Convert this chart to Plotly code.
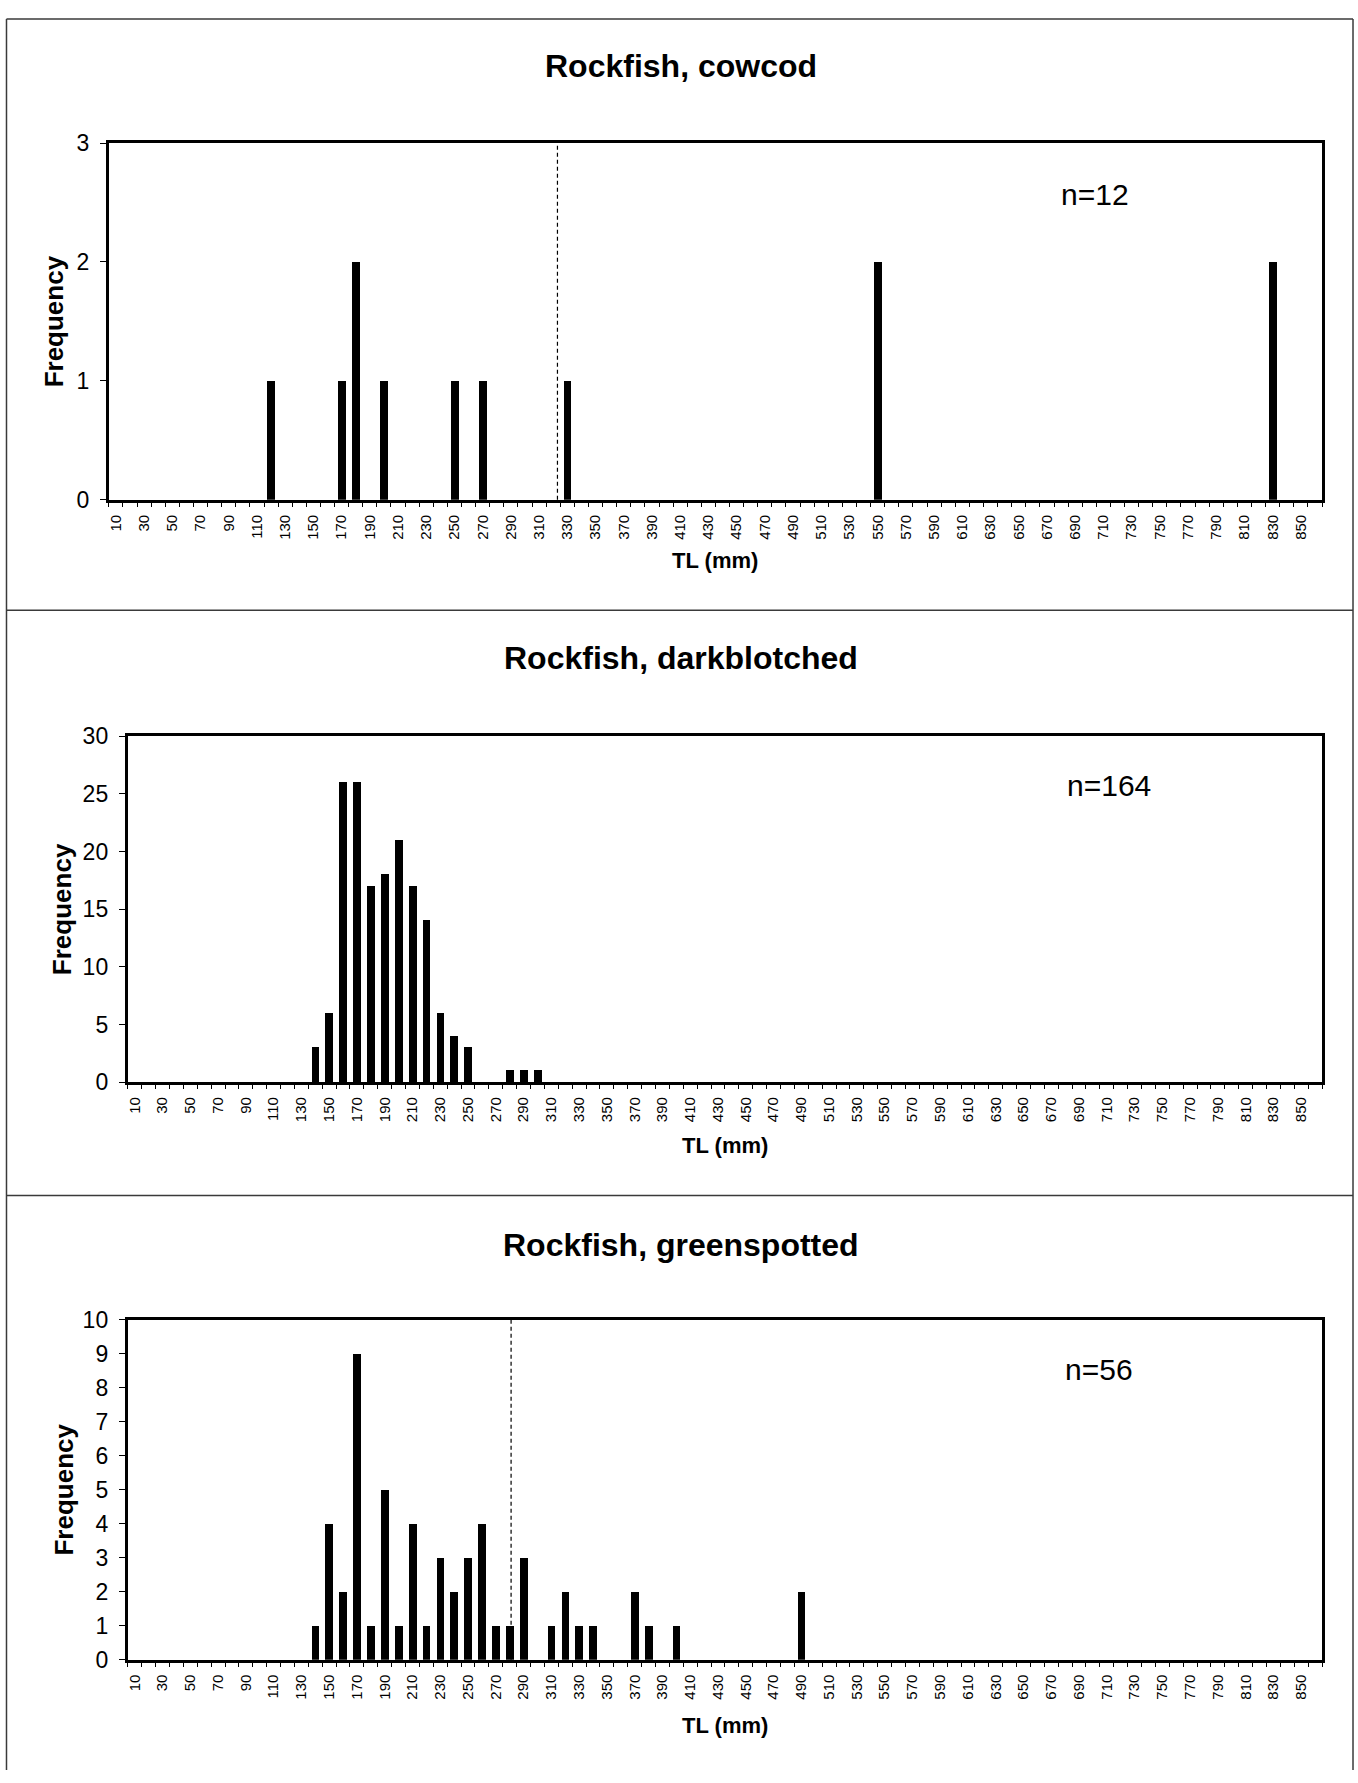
import plotly.graph_objects as go

# ---- length-frequency data (TL in mm, 10 mm classes) ----
cowcod_tl = [120, 170, 180, 200, 250, 270, 330, 550, 830]
cowcod_freq = [1, 1, 2, 1, 1, 1, 1, 2, 2]

darkblotched_tl = [140, 150, 160, 170, 180, 190, 200, 210, 220, 230, 240, 250, 280, 290, 300]
darkblotched_freq = [3, 6, 26, 26, 17, 18, 21, 17, 14, 6, 4, 3, 1, 1, 1]

greenspotted_tl = [140, 150, 160, 170, 180, 190, 200, 210, 220, 230, 240, 250, 260, 270,
                   280, 290, 310, 320, 330, 340, 370, 380, 400, 490]
greenspotted_freq = [1, 4, 2, 9, 1, 5, 1, 4, 1, 3, 2, 3, 4, 1,
                     1, 3, 1, 2, 1, 1, 2, 1, 1, 2]

# length classes run 10..860 mm; every other class is labelled
class_labels = [str(v) for v in range(10, 860, 20)]
class_edges = [v + 5 for v in range(0, 870, 10)]

# dashed reference lengths
cowcod_ref_tl = 323
greenspotted_ref_tl = 281

panels = [
    dict(title="Rockfish, cowcod", n="n=12", tl=cowcod_tl, freq=cowcod_freq,
         ymax=3, dtick=1, ref=cowcod_ref_tl),
    dict(title="Rockfish, darkblotched", n="n=164", tl=darkblotched_tl, freq=darkblotched_freq,
         ymax=30, dtick=5, ref=None),
    dict(title="Rockfish, greenspotted", n="n=56", tl=greenspotted_tl, freq=greenspotted_freq,
         ymax=10, dtick=1, ref=greenspotted_ref_tl),
]

W, H = 1358, 1783
FONT = "Liberation Sans, Arial, sans-serif"

# pixel geometry of each plot area: left, right, top, bottom
boxes = [
    (107, 1322, 132, 494),
    (126, 1322, 734, 1085),
    (126, 1322, 1326, 1671),
]
# title y, n-label (x, y), x-title y, y-title x
label_pos = [
    (54, (1095, 184), 556, 53),
    (655, (1109, 784), 1149, 60),
    (1250, (1099, 1377), 1738, 62),
]


def px(x):
    return x / W


def py(y):
    return 1 - y / H


fig = go.Figure()
annotations = []
shapes = []

for i, p in enumerate(panels):
    k = "" if i == 0 else str(i + 1)
    xa, ya = "x" + k, "y" + k
    left, right, top, bottom = boxes[i]

    fig.add_trace(go.Bar(
        x=p["tl"], y=p["freq"], xaxis=xa, yaxis=ya,
        width=5.6, marker=dict(color="black", line=dict(width=0)),
        showlegend=False, hoverinfo="x+y",
    ))

    fig.layout["xaxis" + k] = dict(
        domain=[px(left), px(right)], anchor=ya, range=[5, 865],
        tickmode="array", tickvals=list(range(10, 860, 20)), ticktext=class_labels,
        tickangle=-90, ticks="", ticklabelstandoff=6,
        tickfont=dict(family=FONT, size=15, color="black"),
        showline=True, linecolor="black", linewidth=3, mirror=True,
        showgrid=False, zeroline=False, fixedrange=True,
        minor=dict(tickmode="array", tickvals=class_edges, ticks="outside",
                   ticklen=4, tickwidth=1, tickcolor="black", showgrid=False),
    )
    fig.layout["yaxis" + k] = dict(
        domain=[py(bottom), py(top)], anchor=xa, range=[0, p["ymax"]],
        tickmode="linear", tick0=0, dtick=p["dtick"],
        ticks="outside", ticklen=6, tickwidth=1, tickcolor="black",
        ticklabelstandoff=6,
        tickfont=dict(family=FONT, size=23, color="black"),
        showline=True, linecolor="black", linewidth=3, mirror=True,
        showgrid=False, zeroline=False, fixedrange=True,
    )

    if p["ref"] is not None:
        shapes.append(dict(type="line", xref=xa, yref=ya + " domain",
                           x0=p["ref"], x1=p["ref"], y0=0, y1=1,
                           line=dict(color="black", width=1.2, dash="4px,3px")))

    ty, (nx, ny), xty, ytx = label_pos[i]
    annotations += [
        dict(text="<b>%s</b>" % p["title"], x=px(680), y=py(ty), xref="paper", yref="paper",
             showarrow=False, xanchor="center", yanchor="middle",
             font=dict(family=FONT, size=32, color="black")),
        dict(text=p["n"], x=px(nx), y=py(ny), xref="paper", yref="paper",
             showarrow=False, xanchor="center", yanchor="middle",
             font=dict(family=FONT, size=30, color="black")),
        dict(text="<b>TL (mm)</b>", x=px((left + right) / 2), y=py(xty), xref="paper", yref="paper",
             showarrow=False, xanchor="center", yanchor="middle",
             font=dict(family=FONT, size=22, color="black")),
        dict(text="<b>Frequency</b>", x=px(ytx), y=py((top + bottom) / 2), xref="paper", yref="paper",
             showarrow=False, xanchor="center", yanchor="middle", textangle=-90,
             font=dict(family=FONT, size=26, color="black")),
    ]

# page frame around the three panels
frame = dict(color="#3a3a3a", width=1.5)
for y in (6, 606, 1200):
    shapes.append(dict(type="line", xref="paper", yref="paper",
                       x0=px(4.5), x1=px(1353), y0=py(y), y1=py(y), line=frame))
for x in (4.5, 1353):
    shapes.append(dict(type="line", xref="paper", yref="paper",
                       x0=px(x), x1=px(x), y0=py(6), y1=0, line=frame))

fig.update_layout(
    width=W, height=H, margin=dict(l=0, r=0, t=0, b=0),
    paper_bgcolor="white", plot_bgcolor="white",
    bargap=0, annotations=annotations, shapes=shapes,
    font=dict(family=FONT, color="black"),
)

fig.write_html("out.html", config=dict(displayModeBar=False))
